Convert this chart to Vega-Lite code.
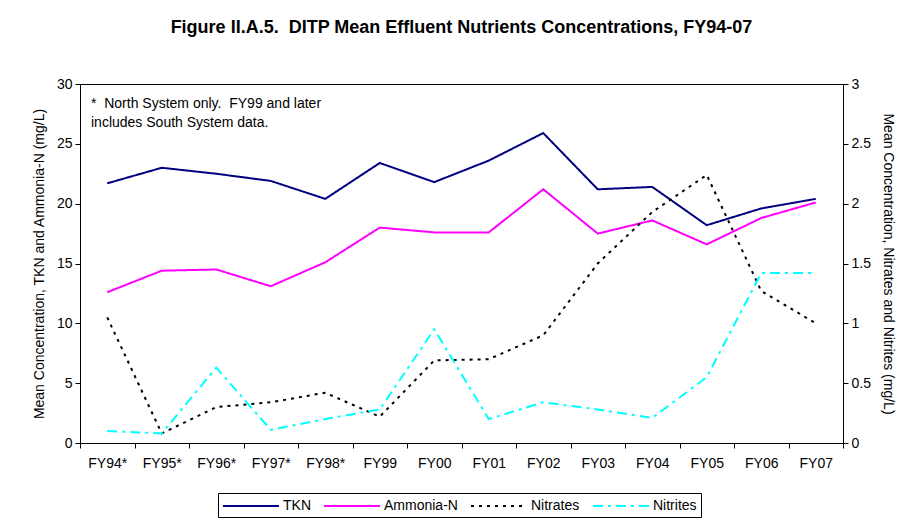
{
  "$schema": "https://vega.github.io/schema/vega-lite/v6.json",
  "width": 763,
  "height": 359,
  "autosize": "none",
  "padding": {"left": 80, "top": 84, "right": 67, "bottom": 77},
  "background": "white",
  "config": {
    "font": "Liberation Sans",
    "view": {"stroke": "black", "strokeWidth": 1},
    "axis": {"labelFont": "Liberation Sans", "titleFont": "Liberation Sans", "labelFontSize": 14, "titleFontSize": 14, "titleFontWeight": "normal", "labelColor": "black", "titleColor": "black", "domainColor": "black", "tickColor": "black", "grid": false}
  },
  "title": {"text": "Figure II.A.5.\u00a0 DITP Mean Effluent Nutrients Concentrations, FY94-07", "font": "Liberation Sans", "fontSize": 18, "fontWeight": "bold", "color": "black", "offset": 40, "anchor": "middle"},
  "data": {"values": [
    {"fy": "FY94*", "series": "TKN", "value": 21.7},
    {"fy": "FY95*", "series": "TKN", "value": 23.0},
    {"fy": "FY96*", "series": "TKN", "value": 22.5},
    {"fy": "FY97*", "series": "TKN", "value": 21.9},
    {"fy": "FY98*", "series": "TKN", "value": 20.4},
    {"fy": "FY99", "series": "TKN", "value": 23.4},
    {"fy": "FY00", "series": "TKN", "value": 21.8},
    {"fy": "FY01", "series": "TKN", "value": 23.6},
    {"fy": "FY02", "series": "TKN", "value": 25.9},
    {"fy": "FY03", "series": "TKN", "value": 21.2},
    {"fy": "FY04", "series": "TKN", "value": 21.4},
    {"fy": "FY05", "series": "TKN", "value": 18.2},
    {"fy": "FY06", "series": "TKN", "value": 19.6},
    {"fy": "FY07", "series": "TKN", "value": 20.4},
    {"fy": "FY94*", "series": "Ammonia-N", "value": 12.6},
    {"fy": "FY95*", "series": "Ammonia-N", "value": 14.4},
    {"fy": "FY96*", "series": "Ammonia-N", "value": 14.5},
    {"fy": "FY97*", "series": "Ammonia-N", "value": 13.1},
    {"fy": "FY98*", "series": "Ammonia-N", "value": 15.1},
    {"fy": "FY99", "series": "Ammonia-N", "value": 18.0},
    {"fy": "FY00", "series": "Ammonia-N", "value": 17.6},
    {"fy": "FY01", "series": "Ammonia-N", "value": 17.6},
    {"fy": "FY02", "series": "Ammonia-N", "value": 21.2},
    {"fy": "FY03", "series": "Ammonia-N", "value": 17.5},
    {"fy": "FY04", "series": "Ammonia-N", "value": 18.6},
    {"fy": "FY05", "series": "Ammonia-N", "value": 16.6},
    {"fy": "FY06", "series": "Ammonia-N", "value": 18.8},
    {"fy": "FY07", "series": "Ammonia-N", "value": 20.1},
    {"fy": "FY94*", "series": "Nitrates", "value": 1.05},
    {"fy": "FY95*", "series": "Nitrates", "value": 0.08},
    {"fy": "FY96*", "series": "Nitrates", "value": 0.30},
    {"fy": "FY97*", "series": "Nitrates", "value": 0.34},
    {"fy": "FY98*", "series": "Nitrates", "value": 0.42},
    {"fy": "FY99", "series": "Nitrates", "value": 0.22},
    {"fy": "FY00", "series": "Nitrates", "value": 0.69},
    {"fy": "FY01", "series": "Nitrates", "value": 0.70},
    {"fy": "FY02", "series": "Nitrates", "value": 0.90},
    {"fy": "FY03", "series": "Nitrates", "value": 1.50},
    {"fy": "FY04", "series": "Nitrates", "value": 1.93},
    {"fy": "FY05", "series": "Nitrates", "value": 2.24},
    {"fy": "FY06", "series": "Nitrates", "value": 1.27},
    {"fy": "FY07", "series": "Nitrates", "value": 1.00},
    {"fy": "FY94*", "series": "Nitrites", "value": 0.10},
    {"fy": "FY95*", "series": "Nitrites", "value": 0.08},
    {"fy": "FY96*", "series": "Nitrites", "value": 0.63},
    {"fy": "FY97*", "series": "Nitrites", "value": 0.11},
    {"fy": "FY98*", "series": "Nitrites", "value": 0.20},
    {"fy": "FY99", "series": "Nitrites", "value": 0.28},
    {"fy": "FY00", "series": "Nitrites", "value": 0.95},
    {"fy": "FY01", "series": "Nitrites", "value": 0.20},
    {"fy": "FY02", "series": "Nitrites", "value": 0.34},
    {"fy": "FY03", "series": "Nitrites", "value": 0.28},
    {"fy": "FY04", "series": "Nitrites", "value": 0.21},
    {"fy": "FY05", "series": "Nitrites", "value": 0.55},
    {"fy": "FY06", "series": "Nitrites", "value": 1.42},
    {"fy": "FY07", "series": "Nitrites", "value": 1.42}
  ]},
  "encoding": {
    "x": {"field": "fy", "type": "nominal", "sort": null, "scale": {"paddingInner": 0, "paddingOuter": 0},
      "axis": {"title": null, "labelAngle": 0, "labelPadding": 8, "tickBand": "extent", "tickSize": 5, "domain": true}}
  },
  "layer": [
    {
      "transform": [{"filter": "datum.series === 'TKN' || datum.series === 'Ammonia-N'"}],
      "mark": {"type": "line", "strokeWidth": 2},
      "encoding": {
        "y": {"field": "value", "type": "quantitative", "scale": {"domain": [0, 30], "nice": false},
          "axis": {"title": "Mean Concentration, TKN and Ammonia-N (mg/L)", "values": [0,5,10,15,20,25,30], "tickSize": 5, "labelPadding": 3, "titlePadding": 10}},
        "color": {"field": "series", "type": "nominal",
          "scale": {"domain": ["TKN", "Ammonia-N", "Nitrates", "Nitrites"], "range": ["#000080", "#FF00FF", "#000000", "#00FFFF"]},
          "legend": {"title": null, "orient": "none", "legendX": 138, "legendY": 409, "direction": "horizontal", "columns": 4, "strokeColor": "black", "padding": 4, "labelFontSize": 14, "labelFont": "Liberation Sans", "labelColor": "black", "symbolType": "M-1,0H6", "symbolSize": 256, "symbolStrokeWidth": 2, "columnPadding": 9, "labelOffset": 43}},
        "strokeDash": {"field": "series", "type": "nominal",
          "scale": {"domain": ["TKN", "Ammonia-N", "Nitrates", "Nitrites"], "range": [[1, 0], [1, 0], [3, 5], [10, 5, 3, 5]]},
          "legend": null}
      }
    },
    {
      "transform": [{"filter": "datum.series === 'Nitrates' || datum.series === 'Nitrites'"}],
      "mark": {"type": "line", "strokeWidth": 2},
      "encoding": {
        "y": {"field": "value", "type": "quantitative", "scale": {"domain": [0, 3], "nice": false},
          "axis": {"orient": "right", "title": "Mean Concentration, Nitrates and Nitrites (mg/L)", "values": [0,0.5,1,1.5,2,2.5,3], "format": "~g", "tickSize": 5, "labelPadding": 3, "titlePadding": 10}},
        "color": {"field": "series", "type": "nominal"},
        "strokeDash": {"field": "series", "type": "nominal"}
      }
    },
    {
      "data": {"values": [{"note": "note"}]},
      "mark": {"type": "text", "align": "left", "baseline": "top", "fontSize": 14, "font": "Liberation Sans", "color": "black", "dx": 11, "lineHeight": 19},
      "encoding": {
        "x": {"datum": "FY94*", "bandPosition": 0},
        "y": {"datum": 28.9, "type": "quantitative", "scale": {"domain": [0, 30]}, "axis": null},
        "text": {"value": ["*\u00a0 North System only.\u00a0 FY99 and later", "includes South System data."]}
      }
    }
  ],
  "resolve": {"scale": {"y": "independent"}}
}
